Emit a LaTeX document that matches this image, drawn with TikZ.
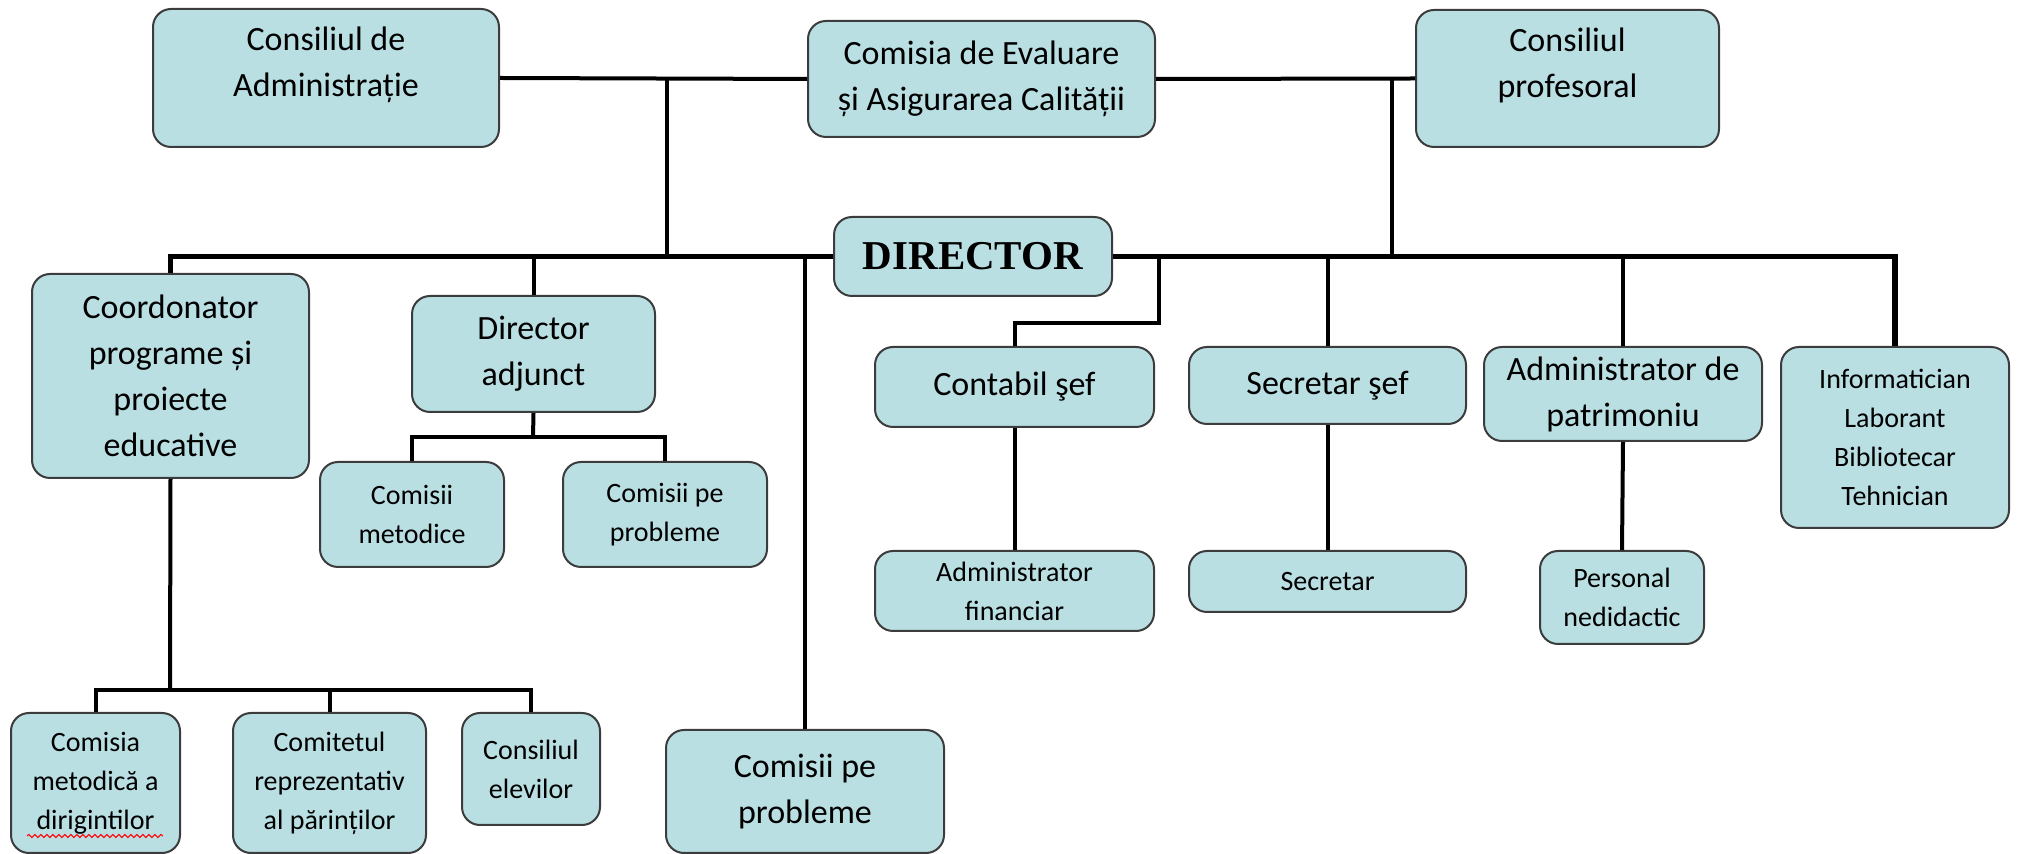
\documentclass[tikz,border=0pt]{standalone}
\usepackage{fontspec}
\setmainfont{Carlito}
\newfontfamily\dirfont{Liberation Serif}
\usetikzlibrary{positioning,decorations.pathmorphing}
\definecolor{boxfill}{RGB}{185,223,227}
\definecolor{boxline}{RGB}{60,60,60}
\tikzset{
  unit/.style={draw=boxline, line width=1pt, fill=boxfill, rounded corners=9pt,
    align=center, inner sep=2pt, font=\fontsize{17}{23}\selectfont},
  subunit/.style={unit, font=\fontsize{14}{19.5}\selectfont},
  link/.style={line width=2pt},
  bus/.style={line width=2.6pt}
}

\begin{document}
\begin{tikzpicture}[x=0.5pt, y=-0.5pt]
    \useasboundingbox (0,0) rectangle (2019,854);

    % Top councils
    \node[unit, minimum width=173pt, minimum height=69pt, text depth=16pt] (consAdm) at (326,78) {Consiliul de\\Administrație};
    \node[unit, minimum width=173.5pt, minimum height=58pt] (comEval) at (981.5,79) {Comisia de Evaluare\\și Asigurarea Calității};
    \node[unit, minimum width=151.5pt, minimum height=68.5pt, text depth=16pt] (consProf) at (1567.5,78.5) {Consiliul\\profesoral};

    % Director
    \node[unit, minimum width=139pt, minimum height=39.5pt, font=\fontsize{20.5}{24}\dirfont\bfseries] (director) at (973,256.5) {DIRECTOR};

    % Left branch
    \node[unit, minimum width=138.5pt, minimum height=102pt] (coord) at (170.5,376) {Coordonator\\programe și\\proiecte\\educative};
    \node[unit, minimum width=121.5pt, minimum height=58pt] (dirAdj) at (533.5,354) {Director\\adjunct};
    \node[subunit, minimum width=92pt, minimum height=52.5pt] (comMet) at (412,514.5) {Comisii\\metodice};
    \node[subunit, minimum width=102pt, minimum height=52.5pt] (comProbA) at (665,514.5) {Comisii pe\\probleme};
    \node[subunit, minimum width=84.5pt, minimum height=70pt] (comDir) at (95.5,783) {Comisia\\metodică a\\dirigintilor};
    \node[subunit, minimum width=96.5pt, minimum height=70pt] (comPar) at (329.5,783) {Comitetul\\reprezentativ\\al părinților};
    \node[subunit, minimum width=69pt, minimum height=56pt] (consElev) at (531,769) {Consiliul\\elevilor};
    \node[unit, minimum width=139pt, minimum height=61.5pt] (comProbB) at (805,791.5) {Comisii pe\\probleme};

    % Right branch
    \node[unit, minimum width=139.5pt, minimum height=40pt] (contabil) at (1014.5,387) {Contabil şef};
    \node[unit, minimum width=138.5pt, minimum height=38.5pt] (secSef) at (1327.5,385.5) {Secretar şef};
    \node[unit, minimum width=139pt, minimum height=47pt] (adminPat) at (1623,394) {Administrator de\\patrimoniu};
    \node[subunit, minimum width=114pt, minimum height=90.5pt] (info) at (1895,437.5) {Informatician\\Laborant\\Bibliotecar\\Tehnician};
    \node[subunit, minimum width=139.5pt, minimum height=40pt] (adminFin) at (1014.5,591) {Administrator\\financiar};
    \node[subunit, minimum width=138.5pt, minimum height=30.5pt] (secretar) at (1327.5,581.5) {Secretar};
    \node[subunit, minimum width=82pt, minimum height=46.5pt] (personal) at (1622,597.5) {Personal\\nedidactic};

    % Joints
    \coordinate (topL) at (667,78);
    \coordinate (topR) at (1392,79);
    \coordinate (jog) at (1159,323);
    \coordinate (forkA) at (533,437);
    \coordinate (forkB) at (170,690);

    % Top links
    \draw[link] (consAdm.east) -- (comEval.west);
    \draw[link] (comEval.east) -- (consProf.west);
    \draw[link] (topL) -- (topL |- director.west);
    \draw[link] (topR) -- (topR |- director.east);

    % Main bus
    \draw[bus] (coord.north) |- (director.west);
    \draw[bus] (director.east) -| (info.north);
    \draw[link] (dirAdj.north) -- (dirAdj.north |- director.west);
    \draw[link] (comProbB.north) -- (comProbB.north |- director.west);
    \draw[link] (jog |- director.east) -- (jog) -| (contabil.north);
    \draw[link] (secSef.north) -- (secSef.north |- director.east);
    \draw[link] (adminPat.north) -- (adminPat.north |- director.east);

    % Sub links
    \draw[link] (dirAdj.south) -- (forkA);
    \draw[link] (comMet.north) |- (forkA) -| (comProbA.north);
    \draw[link] (coord.south) -- (forkB);
    \draw[link] (comDir.north) |- (forkB) -| (consElev.north);
    \draw[link] (comPar.north) -- (comPar.north |- forkB);
    \draw[link] (contabil.south) -- (adminFin.north);
    \draw[link] (secSef.south) -- (secretar.north);
    \draw[link] (adminPat.south) -- (personal.north);

    % Spell mark
    \draw[red, line width=0.5pt, decorate, decoration={snake, amplitude=0.8pt, segment length=3pt}] (27,836) -- (163,836);
\end{tikzpicture}
\end{document}
